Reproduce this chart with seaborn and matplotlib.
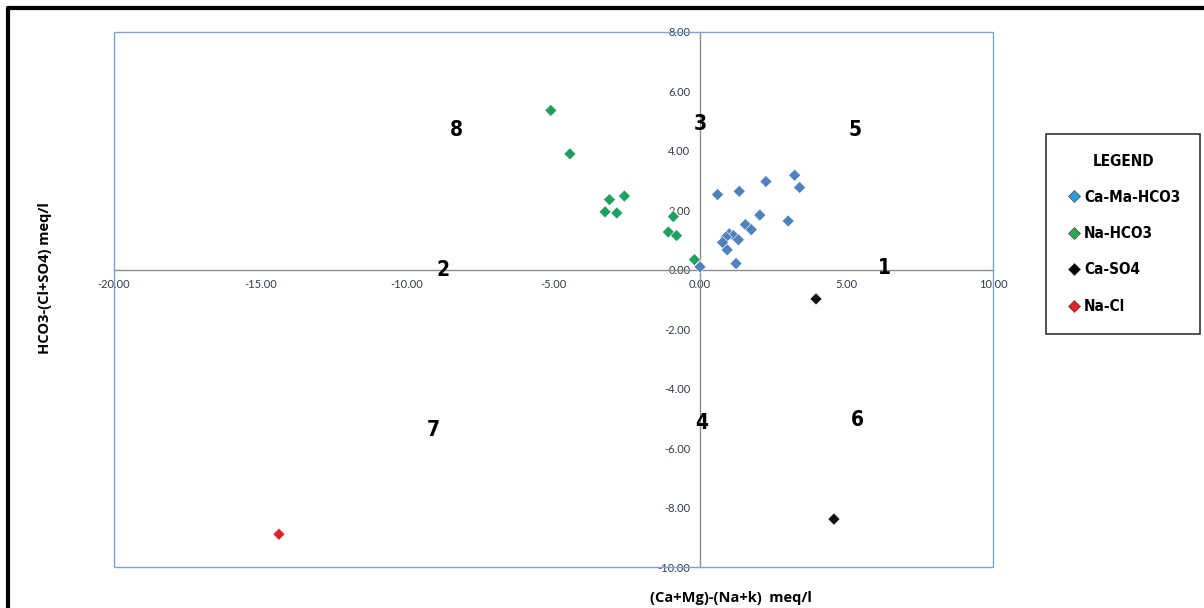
import matplotlib
matplotlib.use("Agg")
import matplotlib.pyplot as plt
import seaborn as sns
import pandas as pd
from matplotlib.lines import Line2D
from matplotlib.patches import Rectangle

# Gibbs-like ion plot data
camg_hco3_x = [0.60, 1.34, 2.25, 3.23, 3.40, 2.04, 3.01, 1.55, 1.75, 1.00, 1.14, 0.89, 1.31, 0.77, 0.93, 1.23, 0.00]
camg_hco3_y = [2.53, 2.64, 2.97, 3.18, 2.77, 1.84, 1.64, 1.52, 1.35, 1.21, 1.15, 1.10, 1.01, 0.92, 0.67, 0.21, 0.10]
na_hco3_x = [-5.09, -4.44, -3.09, -2.58, -3.24, -2.84, -0.91, -1.08, -0.80, -0.19]
na_hco3_y = [5.36, 3.90, 2.36, 2.48, 1.95, 1.91, 1.79, 1.27, 1.15, 0.34]
ca_so4_x = [3.96, 4.57]
ca_so4_y = [-0.98, -8.39]
na_cl_x = [-14.37]
na_cl_y = [-8.90]

groups = ["Ca-Ma-HCO3", "Na-HCO3", "Ca-SO4", "Na-Cl"]
point_colors = ["#4F81BD", "#1FA060", "#111111", "#E0202A"]
legend_colors = ["#2E9BDA", "#2DAA4F", "#000000", "#E3222B"]

zone_labels = ["1", "2", "3", "4", "5", "6", "7", "8"]
zone_x = [6.3, -8.77, 0.0, 0.05, 5.3, 5.36, -9.1, -8.3]
zone_y = [0.05, 0.0, 4.9, -5.15, 4.7, -5.05, -5.4, 4.7]

df = pd.concat([
    pd.DataFrame({"x": camg_hco3_x, "y": camg_hco3_y, "type": groups[0]}),
    pd.DataFrame({"x": na_hco3_x, "y": na_hco3_y, "type": groups[1]}),
    pd.DataFrame({"x": ca_so4_x, "y": ca_so4_y, "type": groups[2]}),
    pd.DataFrame({"x": na_cl_x, "y": na_cl_y, "type": groups[3]}),
])

sns.set_style("white")
plt.rcParams["font.family"] = ["Liberation Sans", "DejaVu Sans"]
plt.rcParams["text.color"] = "black"

fig = plt.figure(figsize=(12.04, 6.08), dpi=100)
ax = fig.add_axes([114 / 1204, 1 - 567 / 608, (993 - 114) / 1204, (567 - 32) / 608])

sns.scatterplot(data=df, x="x", y="y", hue="type", hue_order=groups,
                palette=dict(zip(groups, point_colors)), marker="D", s=38,
                edgecolor="white", linewidth=0.4, legend=False, ax=ax, zorder=3)

ax.set_xlim(-20, 10)
ax.set_ylim(-10, 8)
ax.set_xticks(range(-20, 11, 5))
ax.set_yticks(range(-10, 9, 2))
ax.xaxis.set_major_formatter(matplotlib.ticker.FormatStrFormatter("%.2f"))
ax.yaxis.set_major_formatter(matplotlib.ticker.FormatStrFormatter("%.2f"))

# axes crossing at the origin, Excel style
for side in ["left", "bottom"]:
    ax.spines[side].set_position(("data", 0))
    ax.spines[side].set_color("#8C8C8C")
    ax.spines[side].set_linewidth(1.0)
for side in ["top", "right"]:
    ax.spines[side].set_visible(False)
ax.tick_params(axis="both", direction="out", length=4, width=0.8, color="#8C8C8C",
               labelsize=8, labelcolor="#2F3B4C", pad=3)
for t in ax.get_xticklabels() + ax.get_yticklabels():
    t.set_family(["Lato", "DejaVu Sans"])
ax.patch.set_alpha(0)
ax.add_patch(Rectangle((0, 0), 1, 1, transform=ax.transAxes, fill=False,
                       edgecolor="#7FA1CF", linewidth=1.0, clip_on=False, zorder=5))
ax.set_xlabel("")
ax.set_ylabel("")

for lab, zx, zy in zip(zone_labels, zone_x, zone_y):
    ax.text(zx, zy, lab, ha="center", va="center", fontsize=15, fontweight="bold",
            family=["DejaVu Sans"], stretch="condensed", color="black", zorder=4)

fig.text(731 / 1204, 1 - 598 / 608, "(Ca+Mg)-(Na+k)  meq/l", ha="center", va="center",
         fontsize=10.5, fontweight="bold", family=["Open Sans", "DejaVu Sans"], color="black")
fig.text(45 / 1204, 1 - 278 / 608, "HCO3-(Cl+SO4) meq/l", ha="center", va="center",
         rotation=90, fontsize=10.5, fontweight="bold", family=["Open Sans", "DejaVu Sans"],
         color="black")

handles = [Line2D([], [], marker="D", linestyle="", markersize=6, markerfacecolor=c,
                  markeredgecolor="#333333", markeredgewidth=0.4) for c in legend_colors]
legend_font = {"weight": "bold", "size": 11, "family": "DejaVu Sans", "stretch": "condensed"}
leg = fig.legend(handles, groups, title="LEGEND", loc="upper left",
                 bbox_to_anchor=(1046 / 1204, 1 - 134 / 608), borderaxespad=0, frameon=True,
                 fancybox=False, edgecolor="black", labelspacing=1.4, handletextpad=0.2,
                 borderpad=1.3, handlelength=1.0,
                 prop=legend_font, title_fontproperties=legend_font)
leg.get_frame().set_linewidth(1.2)
leg._legend_box.sep = 15

# outer black frame visible on top and left
fig.add_artist(Line2D([8 / 1204, 1], [1 - 8 / 608, 1 - 8 / 608], transform=fig.transFigure,
                      color="black", linewidth=3))
fig.add_artist(Line2D([8 / 1204, 8 / 1204], [0, 1 - 8 / 608], transform=fig.transFigure,
                      color="black", linewidth=3))

fig.savefig("out.png", dpi=100)
